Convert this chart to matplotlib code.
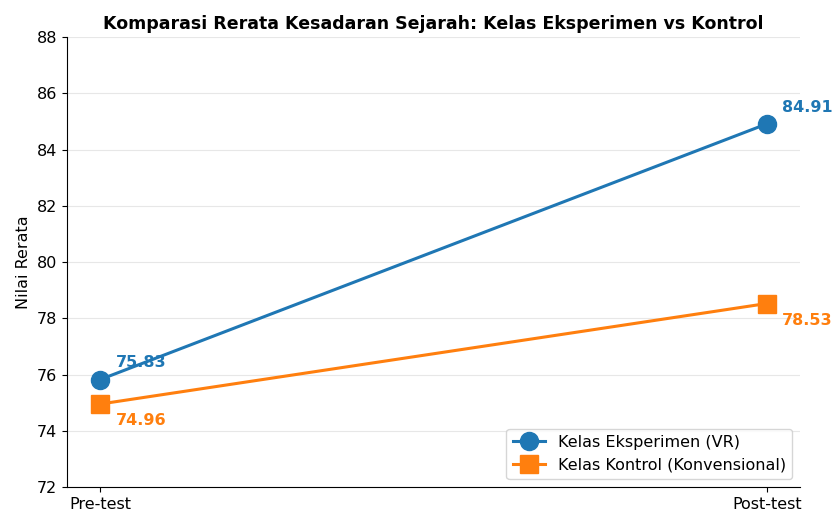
import matplotlib.pyplot as plt

phases = ["Pre-test", "Post-test"]
eksperimen = [75.83, 84.91]
kontrol = [74.96, 78.53]

fig, ax = plt.subplots(figsize=(8.36, 5.13), dpi=100)
x = list(range(len(phases)))
ax.plot(x, eksperimen, marker="o", markersize=13, linewidth=2.2,
        color="#1f77b4", label="Kelas Eksperimen (VR)")
ax.plot(x, kontrol, marker="s", markersize=13, linewidth=2.2,
        color="#ff7f0e", label="Kelas Kontrol (Konvensional)")

for xi, val in zip(x, eksperimen):
    ax.annotate(f"{val:.2f}", (xi, val), xytext=(11, 12), textcoords="offset points",
                ha="left", va="center", fontsize=11.5, fontweight="bold", color="#1f77b4")
for xi, val in zip(x, kontrol):
    ax.annotate(f"{val:.2f}", (xi, val), xytext=(11, -12), textcoords="offset points",
                ha="left", va="center", fontsize=11.5, fontweight="bold", color="#ff7f0e")

ax.set_xticks(x)
ax.set_xticklabels(phases)
ax.tick_params(labelsize=11.5)
ax.set_ylim(72, 88)
ax.set_ylabel("Nilai Rerata", fontsize=11.5)
ax.set_title("Komparasi Rerata Kesadaran Sejarah: Kelas Eksperimen vs Kontrol",
             fontsize=12.5, fontweight="bold")
ax.grid(axis="y", alpha=0.3)
ax.spines["top"].set_visible(False)
ax.spines["right"].set_visible(False)
ax.legend(loc="lower right", fontsize=11.5)

fig.subplots_adjust(left=0.08, right=0.957, top=0.928, bottom=0.05)
fig.savefig("out.png")
